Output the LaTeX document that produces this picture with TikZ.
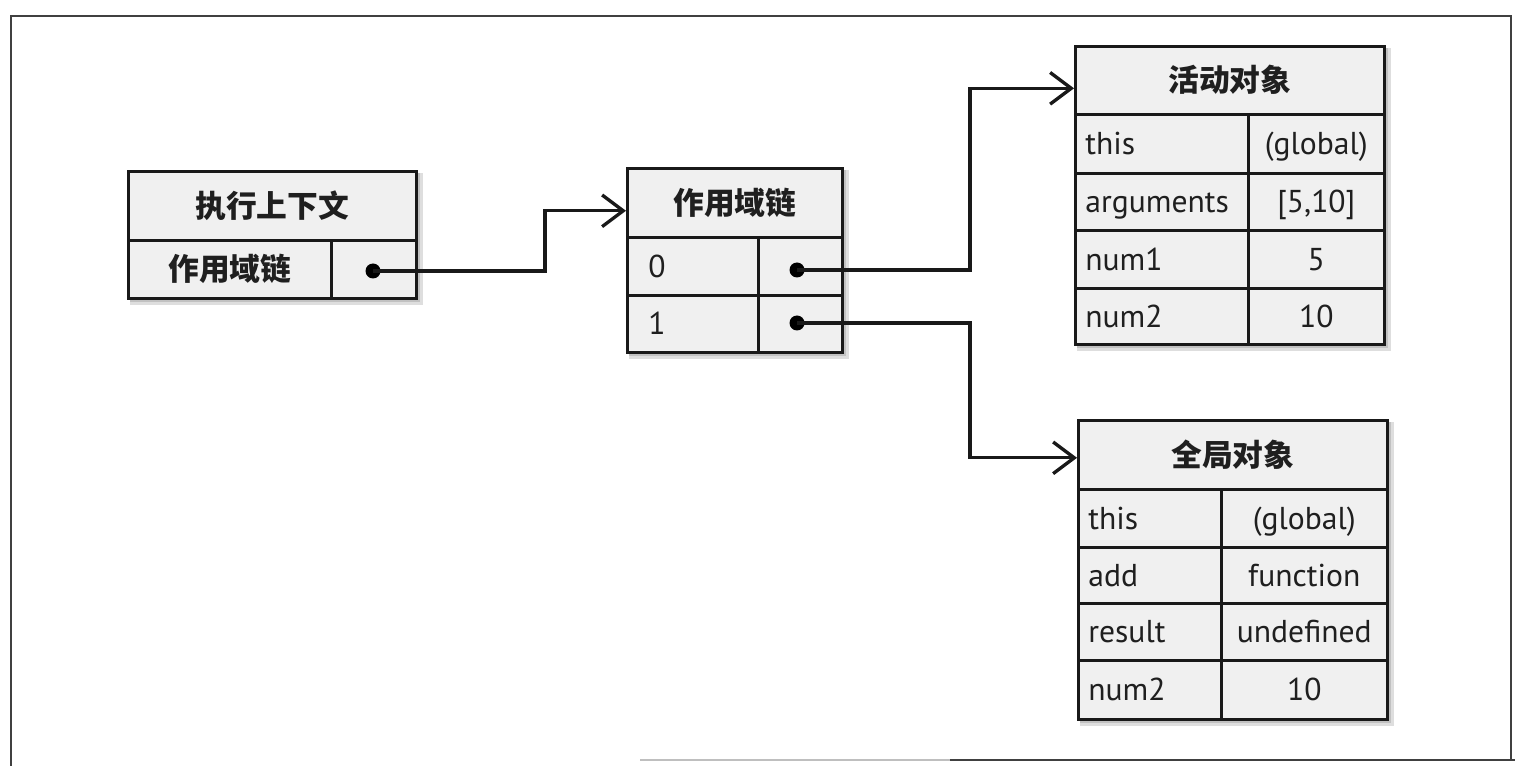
\documentclass[tikz,border=0pt]{standalone}
\usepackage{fontspec}
\setmainfont{PT Sans}
\newfontfamily\cjk{Noto Sans CJK SC}
\usetikzlibrary{arrows.meta,calc}
\begin{document}
\begin{tikzpicture}[x=0.02cm,y=-0.02cm,
  cell/.style={draw=black!90, line width=1.5pt, fill=gray!12, inner sep=0pt, anchor=north west,
    text=black!88, font=\fontsize{18}{20}\selectfont, text height=12.5pt, text depth=0pt},
  hd/.style={cell, font=\cjk\bfseries\fontsize{17.5}{20}\selectfont, text height=15.4pt, text depth=2.1pt},
  lbl/.style={inner sep=0pt, anchor=west, text=black!88, font=\fontsize{18}{20}\selectfont,
    text height=12.5pt, text depth=0pt},
  dot/.style={circle, fill=black, inner sep=0pt, minimum size=0.3cm},
  conn/.style={draw=black!90, line width=1.9pt,
    -{Straight Barb[length=12pt,width=18pt,line width=1.9pt]}},
  frame/.style={draw=black!75, line width=1.2pt},
  shd/.style={fill=black, opacity=0.13}
]
\useasboundingbox (0,0) rectangle (1515,766);
\fill[white] (0,0) rectangle (1515,766);

% outer frame (scanned, partly faded at the bottom)
\draw[frame] (11,766) -- (11,16) -- (1511,16) -- (1511,760);
\draw[draw=black!25, line width=1.2pt] (640,760) -- (950,760);
\draw[frame] (950,760) -- (1515,760);

% shadows
\foreach \a/\b/\c/\d in {127/170/415/297, 626/167/841/351, 1074/45/1383/343, 1077/419/1386/718}{
  \fill[shd] (\a+3,\b+3) rectangle (\c+8,\d+8);
  \fill[shd] (\a+3,\b+3) rectangle (\c+5,\d+5);
}

% execution context
\node[hd, minimum width=5.76cm, minimum height=1.38cm] (ctx) at (127,170) {执行上下文};
\node[hd, minimum width=4.06cm, minimum height=1.16cm] (ctxsc) at (127,239) {作用域链};
\node[cell, minimum width=1.70cm, minimum height=1.16cm] (ctxp) at (330,239) {};

% scope chain
\node[hd, minimum width=4.30cm, minimum height=1.38cm] (sc) at (626,167) {作用域链};
\node[cell, minimum width=2.62cm, minimum height=1.16cm] (sc0) at (626,236) {};
\node[cell, minimum width=1.68cm, minimum height=1.16cm] (sc0p) at (757,236) {};
\node[cell, minimum width=2.62cm, minimum height=1.14cm] (sc1) at (626,294) {};
\node[cell, minimum width=1.68cm, minimum height=1.14cm] (sc1p) at (757,294) {};
\node[lbl] (sc0t) at ($(sc0.west)+(22,0)$) {0};
\node[lbl] (sc1t) at ($(sc1.west)+(22,0)$) {1};

% activation object
\node[hd, minimum width=6.18cm, minimum height=1.36cm] (act) at (1074,45) {活动对象};
\node[cell, minimum width=3.46cm, minimum height=1.18cm] (a1) at (1074,113) {};
\node[cell, minimum width=2.72cm, minimum height=1.18cm] (a1v) at (1247,113) {(global)};
\node[cell, minimum width=3.46cm, minimum height=1.14cm] (a2) at (1074,172) {};
\node[cell, minimum width=2.72cm, minimum height=1.14cm] (a2v) at (1247,172) {[5,10]};
\node[cell, minimum width=3.46cm, minimum height=1.16cm] (a3) at (1074,229) {};
\node[cell, minimum width=2.72cm, minimum height=1.16cm] (a3v) at (1247,229) {5};
\node[cell, minimum width=3.46cm, minimum height=1.12cm] (a4) at (1074,287) {};
\node[cell, minimum width=2.72cm, minimum height=1.12cm] (a4v) at (1247,287) {10};
\node[lbl] (a1t) at ($(a1.west)+(11,0)$) {this};
\node[lbl] (a2t) at ($(a2.west)+(11,0)$) {arguments};
\node[lbl] (a3t) at ($(a3.west)+(11,0)$) {num1};
\node[lbl] (a4t) at ($(a4.west)+(11,0)$) {num2};

% global object
\node[hd, minimum width=6.18cm, minimum height=1.38cm] (glob) at (1077,419) {全局对象};
\node[cell, minimum width=2.86cm, minimum height=1.16cm] (g1) at (1077,488) {};
\node[cell, minimum width=3.32cm, minimum height=1.16cm] (g1v) at (1220,488) {(global)};
\node[cell, minimum width=2.86cm, minimum height=1.12cm] (g2) at (1077,546) {};
\node[cell, minimum width=3.32cm, minimum height=1.12cm] (g2v) at (1220,546) {function};
\node[cell, minimum width=2.86cm, minimum height=1.14cm] (g3) at (1077,602) {};
\node[cell, minimum width=3.32cm, minimum height=1.14cm] (g3v) at (1220,602) {undefined};
\node[cell, minimum width=2.86cm, minimum height=1.18cm] (g4) at (1077,659) {};
\node[cell, minimum width=3.32cm, minimum height=1.18cm] (g4v) at (1220,659) {10};
\node[lbl] (g1t) at ($(g1.west)+(11,0)$) {this};
\node[lbl] (g2t) at ($(g2.west)+(11,0)$) {add};
\node[lbl] (g3t) at ($(g3.west)+(11,0)$) {result};
\node[lbl] (g4t) at ($(g4.west)+(11,0)$) {num2};

% pointers
\node[dot] (d1) at (373,271) {};
\node[dot] (d2) at (797,270) {};
\node[dot] (d3) at (797,323) {};

\draw[conn] (d1.center) -- ++(172,0) |- ($(sc.west)+(0,8)$);
\draw[conn] (d2.center) -- ++(173,0) |- ($(act.west)+(0,8)$);
\draw[conn] (d3.center) -- ++(173,0) |- ($(glob.west)+(0,3)$);
\end{tikzpicture}
\end{document}
